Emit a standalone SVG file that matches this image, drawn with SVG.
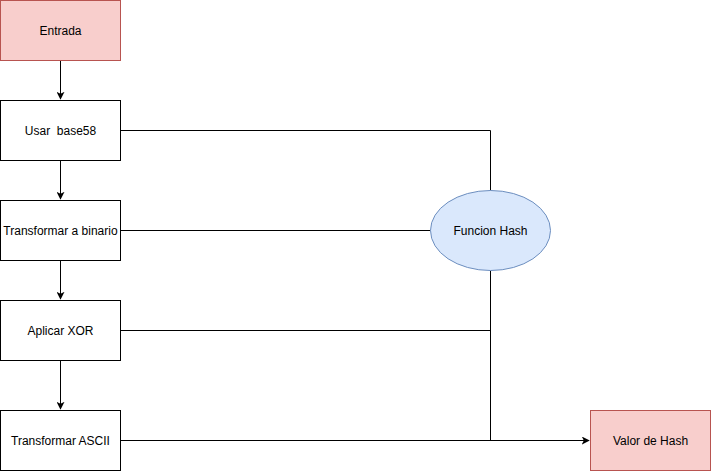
<svg xmlns="http://www.w3.org/2000/svg" width="711" height="471" viewBox="0 0 711 471">
<style>
.box{fill:#ffffff;stroke:#000000;stroke-width:1}
.red{fill:#f8cecc;stroke:#b85450;stroke-width:1}
.blue{fill:#dae8fc;stroke:#6c8ebf;stroke-width:1}
.lbl{font-family:"Liberation Sans",Arial,sans-serif;font-size:12px;fill:#000000;text-anchor:middle;dominant-baseline:central}
.edge{fill:none;stroke:#000000;stroke-width:1}
</style>
<defs>
<marker id="arr" viewBox="0 0 10 10" refX="9" refY="5" markerWidth="8" markerHeight="8" markerUnits="userSpaceOnUse" orient="auto">
<path d="M0,0 L10,5 L0,10 L2.5,5 Z" fill="#000000"/>
</marker>
</defs>
<rect width="711" height="471" fill="#ffffff"/>
<g id="connectors">
<path class="edge" d="M60.5,60.5 V99" marker-end="url(#arr)"/>
<path class="edge" d="M60.5,160.5 V199" marker-end="url(#arr)"/>
<path class="edge" d="M60.5,260.5 V299" marker-end="url(#arr)"/>
<path class="edge" d="M60.5,360.5 V409" marker-end="url(#arr)"/>
<path class="edge" d="M120.5,130.5 H490.5 V190.5"/>
<path class="edge" d="M120.5,230.5 H430.5"/>
<path class="edge" d="M120.5,330.5 H490.5"/>
<path class="edge" d="M490.5,270.5 V440.5"/>
<path class="edge" d="M120.5,440.5 H589" marker-end="url(#arr)"/>
</g>
<g id="entrada">
<rect class="red" x="0.5" y="0.5" width="120" height="60"/>
<text class="lbl" x="60.5" y="30.5">Entrada</text>
</g>
<g id="base58">
<rect class="box" x="0.5" y="100.5" width="120" height="60"/>
<text class="lbl" x="60.5" y="130.5" xml:space="preserve">Usar  base58</text>
</g>
<g id="binario">
<rect class="box" x="0.5" y="200.5" width="120" height="60"/>
<text class="lbl" x="60.5" y="230.5">Transformar a binario</text>
</g>
<g id="xor">
<rect class="box" x="0.5" y="300.5" width="120" height="60"/>
<text class="lbl" x="60.5" y="330.5">Aplicar XOR</text>
</g>
<g id="ascii">
<rect class="box" x="0.5" y="410.5" width="120" height="60"/>
<text class="lbl" x="60.5" y="440.5">Transformar ASCII</text>
</g>
<g id="hash">
<ellipse class="blue" cx="490.5" cy="230.5" rx="60" ry="40"/>
<text class="lbl" x="490.5" y="230.5">Funcion Hash</text>
</g>
<g id="valor">
<rect class="red" x="590.5" y="410.5" width="120" height="60"/>
<text class="lbl" x="650.5" y="440.5">Valor de Hash</text>
</g>
</svg>
